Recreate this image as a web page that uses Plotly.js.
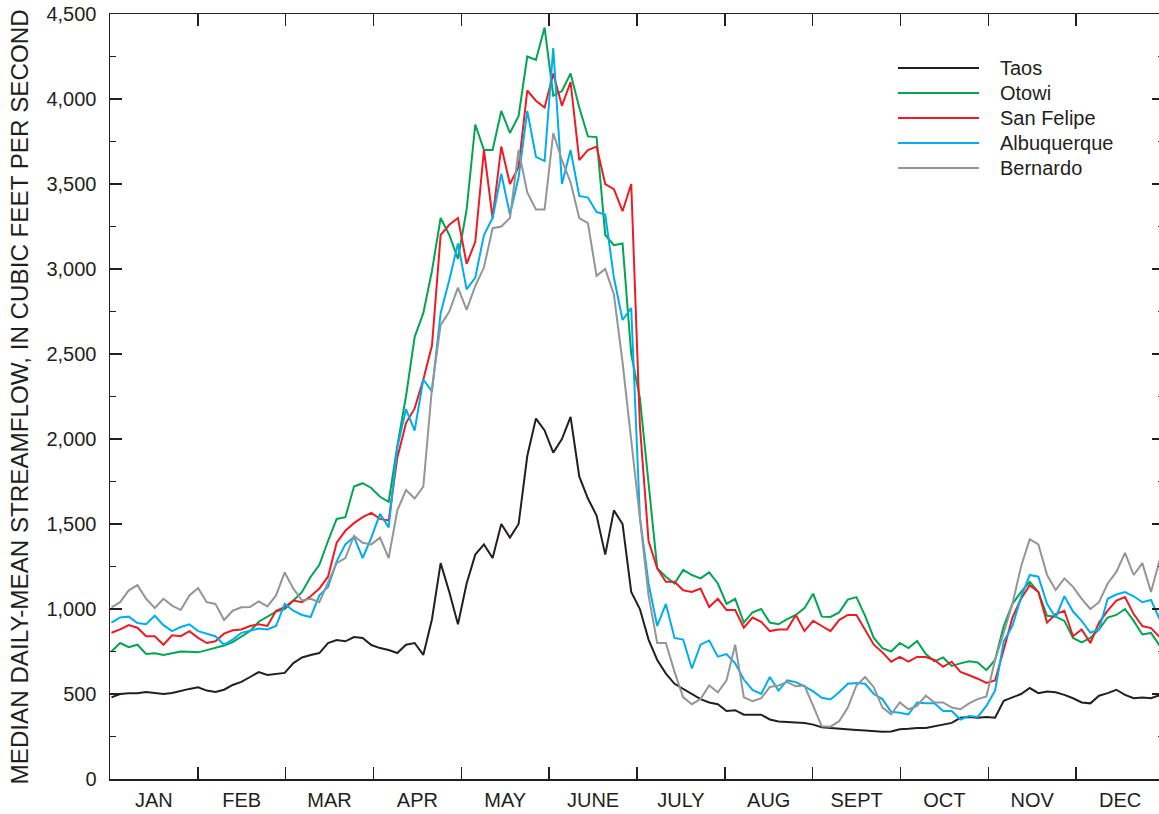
<!DOCTYPE html>
<html>
<head>
<meta charset="utf-8">
<script src="https://cdn.plot.ly/plotly-3.0.1.min.js"></script>
<style>
  html, body { margin: 0; padding: 0; overflow: hidden; background: #ffffff; }
  #chart { width: 1165px; height: 814px; }
</style>
</head>
<body>
<div id="chart"></div>
<script>
// Day of year for each sampled value (every third day)
const days = [
  1,4,7,10,13,16,19,22,25,28,
  31,34,37,40,43,46,49,52,55,58,
  61,64,67,70,73,76,79,82,85,88,
  91,94,97,100,103,106,109,112,115,118,
  121,124,127,130,133,136,139,142,145,148,
  151,154,157,160,163,166,169,172,175,178,
  181,184,187,190,193,196,199,202,205,208,
  211,214,217,220,223,226,229,232,235,238,
  241,244,247,250,253,256,259,262,265,268,
  271,274,277,280,283,286,289,292,295,298,
  301,304,307,310,313,316,319,322,325,328,
  331,334,337,340,343,346,349,352,355,358,
  361,364,365
];

// Median daily-mean streamflow, cubic feet per second
const taos = [
  480,500,505,505,512,505,500,506,520,530,
  540,520,512,525,553,571,600,629,612,618,
  624,682,715,729,741,800,817,810,835,830,
  788,770,759,741,790,800,730,940,1270,1100,
  910,1150,1320,1380,1300,1500,1420,1500,1900,2120,
  2050,1920,2000,2130,1780,1650,1550,1320,1580,1500,
  1100,1000,820,700,620,560,530,505,470,450,
  440,400,405,378,380,378,350,338,335,332,
  330,320,305,300,295,290,288,285,280,278,
  280,292,295,300,300,310,318,330,360,365,
  360,365,360,460,480,500,535,505,515,510,
  495,475,450,445,490,505,525,495,475,480,
  475,495,500
];

const otowi = [
  750,800,775,790,735,740,730,740,750,748,
  745,758,770,785,805,835,870,925,955,985,
  1000,1050,1100,1190,1260,1400,1530,1540,1720,1740,
  1712,1660,1630,1960,2250,2600,2740,2990,3300,3200,
  3060,3350,3850,3700,3700,3930,3800,3900,4250,4230,
  4420,4020,4047,4150,3950,3780,3776,3200,3140,3150,
  2500,2240,1750,1240,1190,1150,1230,1200,1180,1215,
  1150,1030,1060,920,980,1000,920,910,940,965,
  1005,1090,955,953,980,1055,1070,960,830,770,
  750,800,770,812,735,692,715,665,680,692,
  685,640,700,900,1030,1100,1160,1100,960,955,
  930,830,803,830,880,950,965,1000,930,850,
  859,785,760
];

const sanFelipe = [
  860,880,905,890,840,840,790,845,840,870,
  830,800,810,855,875,880,900,910,900,990,
  1010,1050,1040,1075,1120,1190,1390,1460,1505,1540,
  1565,1530,1520,1890,2094,2180,2350,2550,3200,3260,
  3300,3030,3160,3700,3300,3720,3500,3600,4050,3990,
  3950,4150,3960,4100,3640,3700,3720,3500,3470,3340,
  3500,2080,1400,1240,1160,1160,1110,1100,1120,1012,
  1060,994,994,890,950,925,870,880,880,965,
  870,930,900,870,935,965,965,880,790,745,
  690,718,690,718,718,700,660,690,630,610,
  590,565,580,760,950,1060,1140,1100,920,970,
  990,840,880,800,920,990,1050,1070,970,900,
  888,835,820
];

const albuquerque = [
  920,950,955,918,910,960,905,870,894,910,
  870,855,840,790,820,860,872,885,880,900,
  1030,990,965,953,1080,1129,1280,1380,1424,1300,
  1420,1560,1480,1950,2175,2050,2350,2280,2740,2935,
  3150,2880,2950,3200,3300,3560,3320,3540,3930,3660,
  3635,4300,3500,3700,3430,3420,3335,3320,2950,2700,
  2770,1541,1150,900,1030,830,820,650,790,815,
  720,735,680,585,524,500,600,520,580,570,
  545,515,478,468,510,560,565,560,500,470,
  395,390,380,450,445,445,400,400,350,370,
  365,430,520,810,900,1070,1200,1190,1030,950,
  1075,985,930,860,880,1060,1085,1100,1075,1040,
  1053,940,950
];

const bernardo = [
  1010,1040,1110,1140,1060,1006,1060,1020,994,1080,
  1124,1040,1030,935,990,1010,1012,1045,1015,1080,
  1215,1120,1050,1060,1040,1160,1270,1300,1430,1390,
  1380,1420,1300,1580,1700,1650,1720,2300,2670,2750,
  2890,2760,2900,3010,3240,3250,3300,3700,3450,3350,
  3350,3800,3640,3510,3300,3270,2960,3000,2850,2450,
  2000,1530,1080,800,800,630,480,440,470,550,
  510,580,790,480,458,475,541,550,570,545,
  550,430,310,308,340,420,550,600,540,420,
  380,450,410,430,490,450,450,420,410,445,
  470,485,700,860,1030,1250,1410,1380,1200,1112,
  1180,1130,1060,1000,1040,1150,1218,1330,1200,1270,
  1100,1288,1250
];

const stationNames = ['Taos', 'Otowi', 'San Felipe', 'Albuquerque', 'Bernardo'];
const stationColors = ['#231f20', '#00a651', '#ed1c24', '#00aeef', '#939598'];
const stationFlows = [taos, otowi, sanFelipe, albuquerque, bernardo];

const months = ['JAN','FEB','MAR','APR','MAY','JUNE','JULY','AUG','SEPT','OCT','NOV','DEC'];
const yTitle = 'MEDIAN DAILY-MEAN STREAMFLOW, IN CUBIC FEET PER SECOND';

// Months drawn as twelve equal-width bands across the year
const monthWidth = 365 / 12;
const monthEdges = months.slice(1).map((m, i) => 0.5 + (i + 1) * monthWidth);
const monthMids = months.map((m, i) => 0.5 + (i + 0.5) * monthWidth);

const ink = '#231f20';
const fontFamily = '"Liberation Sans", Arial, Helvetica, sans-serif';

const traces = stationNames.map((name, i) => ({
  type: 'scatter',
  mode: 'lines',
  name: name,
  x: days,
  y: stationFlows[i],
  line: { color: stationColors[i], width: 2 },
  hoverinfo: 'x+y+name'
}));

// Key in the upper right: a line sample and the station name per row
const keyTop = 0.9294, keyStep = 0.0327;
const keyShapes = stationNames.map((name, i) => ({
  type: 'line', xref: 'paper', yref: 'paper',
  x0: 0.7476, x1: 0.8245,
  y0: keyTop - i * keyStep, y1: keyTop - i * keyStep,
  line: { color: stationColors[i], width: 2 }
}));
const keyLabels = stationNames.map((name, i) => ({
  xref: 'paper', yref: 'paper',
  x: 0.8425, y: keyTop - i * keyStep,
  xanchor: 'left', yanchor: 'middle',
  text: name, showarrow: false,
  font: { family: fontFamily, size: 20, color: ink }
}));

const layout = {
  width: 1165,
  height: 814,
  margin: { l: 110, r: 1, t: 14, b: 35, pad: 0 },
  paper_bgcolor: '#ffffff',
  plot_bgcolor: '#ffffff',
  showlegend: false,
  font: { family: fontFamily, size: 20, color: ink },
  xaxis: {
    range: [0.5, 365.5],
    tickmode: 'array',
    tickvals: monthMids,
    ticktext: months,
    ticks: '',
    ticklabelstandoff: 2,
    showline: true,
    linecolor: ink,
    linewidth: 1.5,
    mirror: 'ticks',
    showgrid: false,
    zeroline: false,
    automargin: false,
    tickfont: { family: fontFamily, size: 20, color: ink },
    minor: {
      tickmode: 'array',
      tickvals: monthEdges,
      ticks: 'inside',
      ticklen: 12,
      tickwidth: 1.5,
      tickcolor: ink,
      showgrid: false
    }
  },
  yaxis: {
    range: [0, 4500],
    tickmode: 'linear',
    tick0: 0,
    dtick: 500,
    tickformat: ',d',
    ticks: 'inside',
    ticklen: 12,
    tickwidth: 1.5,
    tickcolor: ink,
    ticklabelstandoff: 8,
    showline: true,
    linecolor: ink,
    linewidth: 1.5,
    mirror: 'ticks',
    showgrid: false,
    zeroline: false,
    automargin: false,
    tickfont: { family: fontFamily, size: 20, color: ink },
    minor: {
      dtick: 250,
      ticks: 'inside',
      ticklen: 6,
      tickwidth: 1.5,
      tickcolor: ink,
      showgrid: false
    }
  },
  shapes: keyShapes,
  annotations: keyLabels.concat([{
    xref: 'paper', yref: 'paper',
    x: -0.0855, y: 0.5,
    xanchor: 'center', yanchor: 'middle',
    textangle: -90,
    text: yTitle,
    showarrow: false,
    font: { family: fontFamily, size: 24.2, color: ink }
  }])
};

Plotly.newPlot('chart', traces, layout, { displayModeBar: false, staticPlot: true });
</script>
</body>
</html>
